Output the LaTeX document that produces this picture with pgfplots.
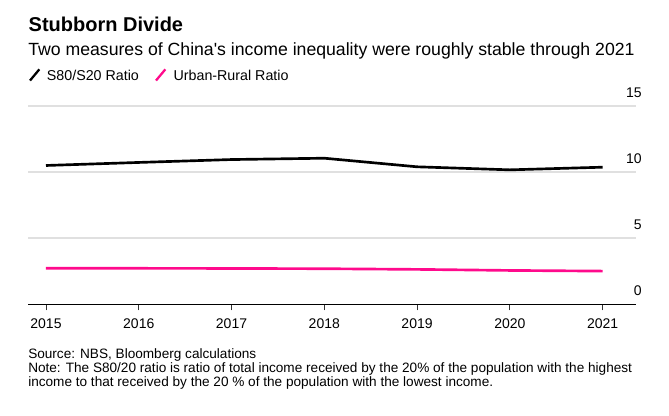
\documentclass[border=0pt]{standalone}
\usepackage{pgfplots}
\pgfplotsset{compat=1.18}
\usepackage{fontspec}
\setmainfont{Liberation Sans}
\definecolor{bpink}{RGB}{255,10,140}
\definecolor{gridgray}{RGB}{224,224,224}
\begin{document}
\begin{tikzpicture}
\path[use as bounding box] (0,0) rectangle (501.75pt,-311.25pt);
% title etc.
\node[anchor=base west, inner sep=0pt, font=\fontsize{15pt}{17pt}\selectfont\bfseries] at (21.3pt,-23.8pt) {Stubborn Divide};
\node[anchor=base west, inner sep=0pt, font=\fontsize{13.25pt}{15pt}\selectfont] at (21pt,-41.8pt) {Two measures of China\textquotesingle s income inequality were roughly stable through 2021};
% legend
\draw[black, line width=1.7pt] (22.5pt,-60.4pt) -- (29.5pt,-52pt);
\node[anchor=base west, inner sep=0pt, font=\fontsize{10.7pt}{12pt}\selectfont] at (35pt,-60.2pt) {S80/S20 Ratio};
\draw[bpink, line width=1.7pt] (117pt,-60.4pt) -- (124pt,-52pt);
\node[anchor=base west, inner sep=0pt, font=\fontsize{10.7pt}{12pt}\selectfont] at (130pt,-60.2pt) {Urban-Rural Ratio};
\begin{axis}[
  at={(21pt,-228.2pt)}, anchor=south west,
  scale only axis, width=456pt, height=148.7pt,
  xmin=2014.806, xmax=2021.36,
  ymin=0, ymax=15,
  axis line style={draw=none},
  axis x line*=bottom,
  axis y line*=right,
  xtick={2015,2016,2017,2018,2019,2020,2021},
  ytick={0,5,10,15},
  ymajorgrids, grid style={gridgray, line width=1.1pt},
  xticklabel style={/pgf/number format/1000 sep={}, font=\fontsize{10.5pt}{12pt}\selectfont, yshift=-3pt},
  yticklabel style={anchor=south east, inner sep=0pt, font=\fontsize{10.5pt}{12pt}\selectfont, yshift=6pt, xshift=0pt},
  /pgf/number format/assume math mode=true,
  x tick style={draw=black!80, line width=0.6pt},
  y tick style={draw=none},
  tick align=outside,
  major tick length=4.5pt,
  clip=false,
]
\draw[black, line width=0.8pt] (axis cs:2014.806,0) -- (axis cs:2021.36,0);
\addplot[black, line width=2pt] coordinates {(2015,10.5) (2016,10.73) (2017,10.95) (2018,11.05) (2019,10.4) (2020,10.17) (2021,10.37)};
\addplot[bpink, line width=2pt] coordinates {(2015,2.73) (2016,2.72) (2017,2.71) (2018,2.69) (2019,2.64) (2020,2.56) (2021,2.51)};
\end{axis}
% footnotes
\node[anchor=base west, inner sep=0pt, font=\fontsize{10.2pt}{11pt}\selectfont] at (21pt,-268.5pt) {Source: NBS, Bloomberg calculations};
\node[anchor=base west, inner sep=0pt, font=\fontsize{10.2pt}{11pt}\selectfont] at (21pt,-279.3pt) {Note: The S80/20 ratio is ratio of total income received by the 20\% of the population with the highest};
\node[anchor=base west, inner sep=0pt, font=\fontsize{10.2pt}{11pt}\selectfont] at (21pt,-290.2pt) {income to that received by the 20 \% of the population with the lowest income.};
\end{tikzpicture}
\end{document}
